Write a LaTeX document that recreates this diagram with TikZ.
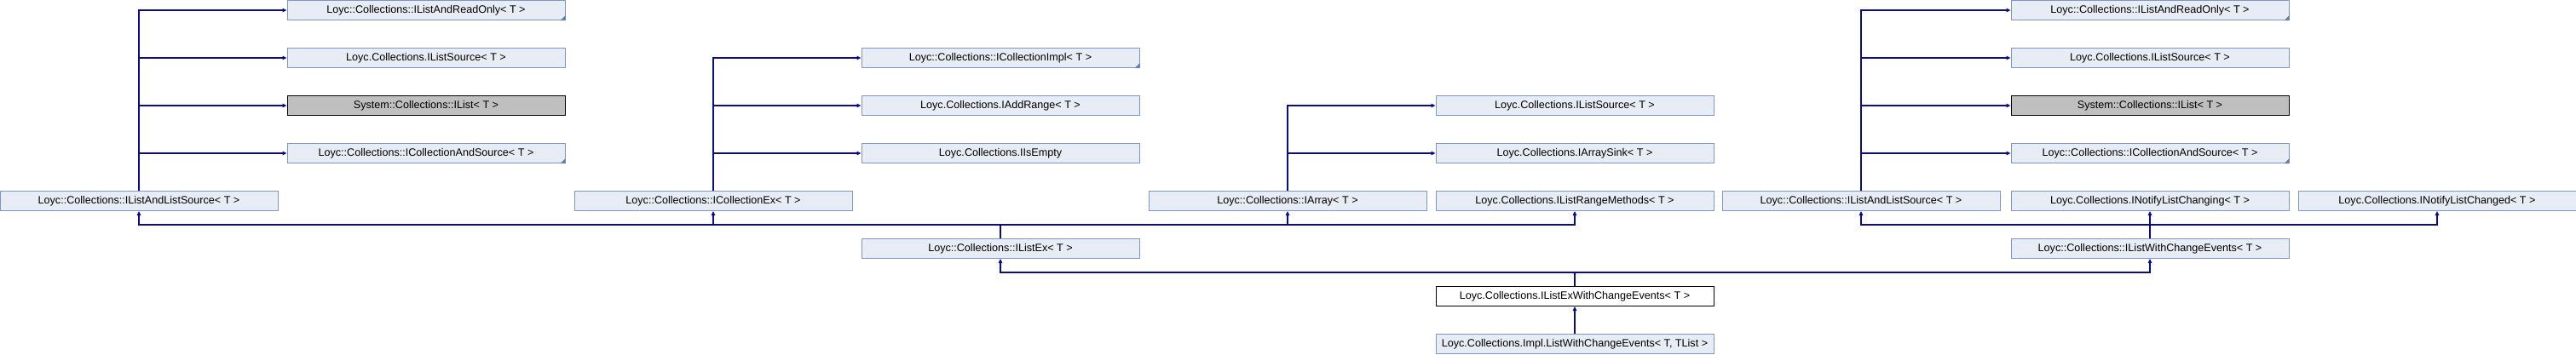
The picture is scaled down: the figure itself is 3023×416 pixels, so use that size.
\documentclass[tikz,border=0pt]{standalone}
\usepackage{fontspec}
\setmainfont{Liberation Sans}
\usetikzlibrary{arrows.meta}
\definecolor{boxfill}{RGB}{232,236,245}
\definecolor{boxline}{RGB}{124,149,202}
\definecolor{edgecol}{RGB}{10,10,140}
\definecolor{grayfill}{RGB}{191,191,191}
\begin{document}
\begin{tikzpicture}[x=1pt,y=-1pt,
 cls/.style={draw=boxline, fill=boxfill, line width=1pt, minimum width=326pt, minimum height=23pt, inner sep=0pt, font=\fontsize{12.6}{15}\selectfont},
 ext/.style={cls, draw=black, fill=grayfill},
 cur/.style={cls, draw=black, fill=white},
 edge/.style={draw=edgecol, line width=1.1pt, -{Triangle[length=5pt,width=4.5pt]}},
]
\useasboundingbox (0,0) rectangle (3023,416);
% left group
\node[cls] (ro1) at (500,12) {Loyc::Collections::IListAndReadOnly< T >};
\node[cls] (ls1) at (500,68) {Loyc.Collections.IListSource< T >};
\node[ext] (il1) at (500,124) {System::Collections::IList< T >};
\node[cls] (cas1) at (500,180) {Loyc::Collections::ICollectionAndSource< T >};
\node[cls] (lls1) at (163,236) {Loyc::Collections::IListAndListSource< T >};
% collection ex group
\node[cls] (cimpl) at (1174,68) {Loyc::Collections::ICollectionImpl< T >};
\node[cls] (addr) at (1174,124) {Loyc.Collections.IAddRange< T >};
\node[cls] (isempty) at (1174,180) {Loyc.Collections.IIsEmpty};
\node[cls] (cex) at (837,236) {Loyc::Collections::ICollectionEx< T >};
% array group
\node[cls] (ls2) at (1848,124) {Loyc.Collections.IListSource< T >};
\node[cls] (asink) at (1848,180) {Loyc.Collections.IArraySink< T >};
\node[cls] (arr) at (1511,236) {Loyc::Collections::IArray< T >};
\node[cls] (lrm) at (1848,236) {Loyc.Collections.IListRangeMethods< T >};
% right group
\node[cls] (ro2) at (2523,12) {Loyc::Collections::IListAndReadOnly< T >};
\node[cls] (ls3) at (2523,68) {Loyc.Collections.IListSource< T >};
\node[ext] (il2) at (2523,124) {System::Collections::IList< T >};
\node[cls] (cas2) at (2523,180) {Loyc::Collections::ICollectionAndSource< T >};
\node[cls] (lls2) at (2184,236) {Loyc::Collections::IListAndListSource< T >};
\node[cls] (nlcg) at (2523,236) {Loyc.Collections.INotifyListChanging< T >};
\node[cls] (nlcd) at (2860,236) {Loyc.Collections.INotifyListChanged< T >};
% lower rows
\node[cls] (lex) at (1174,292) {Loyc::Collections::IListEx< T >};
\node[cls] (lwce) at (2523,292) {Loyc::Collections::IListWithChangeEvents< T >};
\node[cur] (lexwce) at (1848,348) {Loyc.Collections.IListExWithChangeEvents< T >};
\node[cls] (impl) at (1848,404) {Loyc.Collections.Impl.ListWithChangeEvents< T, TList >};
% corner marks
\foreach \nn in {ro1,cas1,cimpl,ro2,cas2}
  \fill[boxline!85!black] (\nn.south east) -- ++(-6,0) -- ++(6,-6) -- cycle;
% junctions
\coordinate (j1) at (1174,264);
\coordinate (j2) at (2523,264);
\coordinate (j3) at (1848,320);
% edges
\foreach \nn in {ro1,ls1,il1,cas1} \draw[edge] (lls1.north) |- (\nn.west);
\foreach \nn in {cimpl,addr,isempty} \draw[edge] (cex.north) |- (\nn.west);
\foreach \nn in {ls2,asink} \draw[edge] (arr.north) |- (\nn.west);
\foreach \nn in {ro2,ls3,il2,cas2} \draw[edge] (lls2.north) |- (\nn.west);
\foreach \nn in {lls1,cex,arr,lrm} \draw[edge] (lex.north) -- (j1) -| (\nn.south);
\foreach \nn in {lls2,nlcd} \draw[edge] (lwce.north) -- (j2) -| (\nn.south);
\draw[edge] (lwce.north) -- (nlcg.south);
\foreach \nn in {lex,lwce} \draw[edge] (lexwce.north) -- (j3) -| (\nn.south);
\draw[edge] (impl.north) -- (lexwce.south);
\end{tikzpicture}
\end{document}
